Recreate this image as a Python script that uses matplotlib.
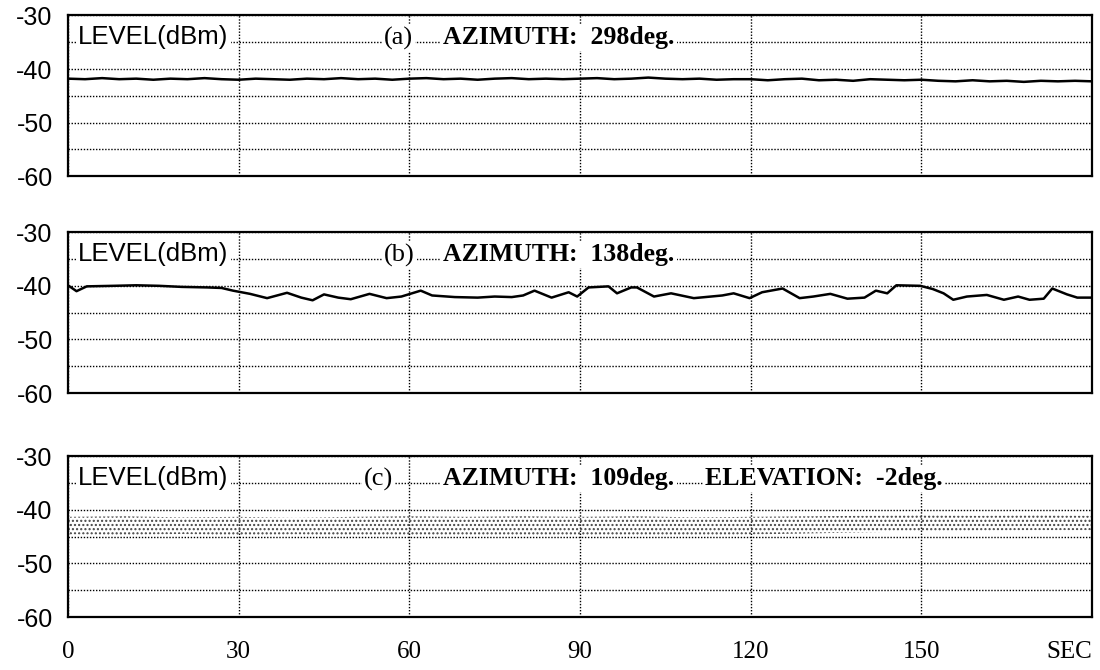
import numpy as np
import matplotlib
matplotlib.use("Agg")
from matplotlib import pyplot as plt

# time axis ticks
x_ticks = [0, 30, 60, 90, 120, 150, 180]
x_labels = ["0", "30", "60", "90", "120", "150", "SEC"]
y_ticks = [-30, -40, -50, -60]
y_labels = ["-30", "-40", "-50", "-60"]

# (a) azimuth 298 deg, level every 3 s
t_a = [0, 3, 6, 9, 12, 15, 18, 21, 24, 27,
       30, 33, 36, 39, 42, 45, 48, 51, 54, 57,
       60, 63, 66, 69, 72, 75, 78, 81, 84, 87,
       90, 93, 96, 99, 102, 105, 108, 111, 114, 117,
       120, 123, 126, 129, 132, 135, 138, 141, 144, 147,
       150, 153, 156, 159, 162, 165, 168, 171, 174, 177, 180]
lvl_a = [-41.8, -41.9, -41.7, -41.9, -41.8, -42.0, -41.8, -41.9, -41.7, -41.9,
         -42.0, -41.8, -41.9, -42.0, -41.8, -41.9, -41.7, -41.9, -41.8, -42.0,
         -41.8, -41.7, -41.9, -41.8, -42.0, -41.8, -41.7, -41.9, -41.8, -41.9,
         -41.8, -41.7, -41.9, -41.8, -41.6, -41.8, -41.9, -41.8, -42.0, -41.9,
         -41.9, -42.1, -41.9, -41.8, -42.1, -42.0, -42.2, -41.9, -42.0, -42.1,
         -42.0, -42.2, -42.3, -42.1, -42.3, -42.2, -42.4, -42.2, -42.3, -42.2, -42.3]

# (b) azimuth 138 deg
t_b = [0, 1.5, 3.3, 8, 12, 16, 20, 24.5, 27, 29, 32, 35, 38.5, 41, 43, 45, 47.5,
       49.7, 53, 56, 58.6, 62, 64, 68, 72, 75, 78, 80, 82, 85, 88, 89.5, 91.5,
       95, 96.5, 99, 100, 103, 106, 110, 115, 117, 119.8, 122, 125.6, 128.6,
       131, 134, 137, 140, 142, 144, 145.6, 149.8, 152, 153.9, 155.6, 158,
       161.5, 164.5, 167, 169, 171.5, 173, 175.6, 177.4, 180]
lvl_b = [-39.9, -41.0, -40.1, -40.0, -39.9, -40.0, -40.2, -40.3, -40.4, -40.9,
         -41.5, -42.3, -41.3, -42.2, -42.7, -41.6, -42.2, -42.5, -41.5, -42.3,
         -42.0, -40.9, -41.8, -42.1, -42.2, -42.0, -42.1, -41.8, -40.9, -42.2,
         -41.2, -42.0, -40.3, -40.1, -41.4, -40.3, -40.3, -42.0, -41.4, -42.3,
         -41.8, -41.4, -42.3, -41.2, -40.5, -42.3, -42.0, -41.5, -42.4, -42.2,
         -40.9, -41.4, -39.9, -40.0, -40.6, -41.4, -42.6, -42.0, -41.7, -42.6,
         -42.0, -42.6, -42.4, -40.5, -41.6, -42.2, -42.2]

# (c) azimuth 109 deg, elevation -2 deg: fast fading band (upper / lower envelope)
t_c = [0, 10, 20, 30, 40, 50, 60, 70, 80, 90, 100, 110, 120, 130, 140, 150, 160, 170, 180]
top_c = [-41.3, -41.2, -41.4, -41.3, -41.5, -41.3, -41.2, -41.3, -41.2, -41.3,
         -41.2, -41.4, -41.3, -41.2, -41.1, -41.0, -41.1, -41.0, -41.1]
bot_c = [-44.6, -44.7, -44.5, -44.8, -44.6, -44.9, -44.7, -44.8, -44.8, -44.9,
         -44.7, -44.8, -44.6, -44.4, -44.2, -44.0, -43.9, -43.8, -43.8]

sans = "Liberation Sans"
serif = "Liberation Serif"
plt.rcParams["hatch.linewidth"] = 1.0

fig = plt.figure(figsize=(11, 6.7), dpi=100)
bottoms = [0.737, 0.4134, 0.079]
axs = [fig.add_axes([0.0618, b, 0.931, 0.240]) for b in bottoms]

titles = [("(a)", "AZIMUTH:  298deg.", None),
          ("(b)", "AZIMUTH:  138deg.", None),
          ("(c)", "AZIMUTH:  109deg.", "ELEVATION:  -2deg.")]

for i, ax in enumerate(axs):
    ax.set_xlim(0, 180)
    ax.set_ylim(-60, -30)
    ax.set_yticks(y_ticks)
    ax.set_yticklabels(y_labels, fontfamily=sans, fontsize=18)
    ax.set_yticks([-35, -45, -55], minor=True)
    ax.set_xticks(x_ticks)
    if i == 2:
        lbls = ax.set_xticklabels(x_labels, fontfamily=serif, fontsize=18)
        lbls[-1].set_horizontalalignment("right")
    else:
        ax.set_xticklabels([])
    ax.tick_params(which="both", length=0)
    ax.tick_params(axis="y", pad=11)
    ax.tick_params(axis="x", pad=17)
    ax.grid(which="both", color="black", linestyle=(0, (1, 1.2)), linewidth=1.0)
    for s in ax.spines.values():
        s.set_linewidth(1.6)
        s.set_zorder(5)
    box = dict(facecolor="white", edgecolor="none", pad=1.5)
    ax.text(1.8, -35.4, "LEVEL(dBm)", fontfamily=sans, fontsize=18.5,
            va="baseline", bbox=box, zorder=4)
    lab, az, el = titles[i]
    ax.text(55.5 if i < 2 else 52, -35.4, lab, fontfamily=serif, fontsize=19,
            va="baseline", bbox=box, zorder=4)
    ax.text(66, -35.4, az, fontfamily=serif, fontsize=18.5, fontweight="bold",
            va="baseline", bbox=box, zorder=4)
    if el:
        ax.text(112, -35.4, el, fontfamily=serif, fontsize=18.5, fontweight="bold",
                va="baseline", bbox=box, zorder=4)

axs[0].plot(t_a, lvl_a, color="black", linewidth=1.8, zorder=3)
axs[1].plot(t_b, lvl_b, color="black", linewidth=1.8, zorder=3)
axs[2].fill_between(t_c, bot_c, top_c, facecolor="none", edgecolor="#444444",
                    hatch="....", linewidth=0, zorder=3)

fig.savefig("out.png", dpi=100)
